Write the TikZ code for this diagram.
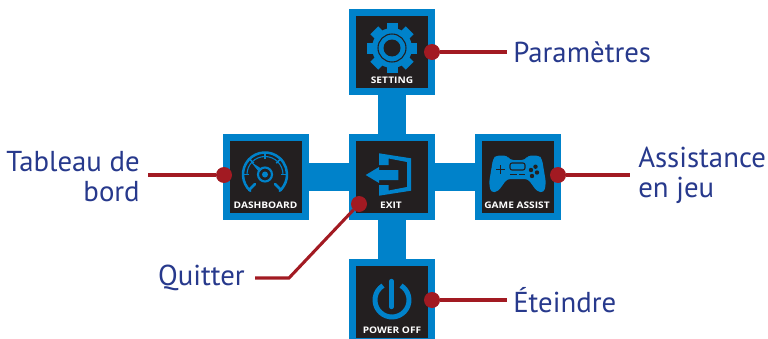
\documentclass[tikz,border=0pt]{standalone}
\usepackage{fontspec}
\setmainfont{PT Sans}
\newfontfamily\capfont[FakeStretch=1.12]{Open Sans}
\definecolor{menublue}{HTML}{0082CA}
\definecolor{menudark}{HTML}{231F20}
\definecolor{pinred}{HTML}{A21A22}
\definecolor{labelblue}{HTML}{27398C}
\tikzset{
    menubox/.style={draw=menublue, fill=menudark, line width=5pt, minimum size=59.5pt, inner sep=0pt},
    menubar/.style={menublue, line width=21pt},
    pin/.style={circle, fill=pinred, minimum size=12pt, inner sep=0pt},
    pinline/.style={pinred, line width=2.3pt},
    label/.style={text=labelblue, font=\fontsize{21.6}{22.5}\selectfont, inner sep=0pt},
    caption/.style={text=white, font=\capfont\bfseries\fontsize{6.8}{7}\selectfont, inner sep=0pt},
    iconline/.style={menublue, line width=1.9pt}
}

\begin{document}
\begin{tikzpicture}[x=0.75pt, y=-0.75pt]
    \useasboundingbox (0, 0) rectangle (768, 339);
    \clip (0, 0) rectangle (768, 339);

    \node [menubox] (setting) at (392, 52) {};
    \node [menubox] (dash) at (266, 177) {};
    \node [menubox] (exit) at (392, 177) {};
    \node [menubox] (game) at (518, 177) {};
    \node [menubox] (power) at (392, 302) {};

    \draw [menubar] (setting) -- (exit);
    \draw [menubar] (exit) -- (power);
    \draw [menubar] (dash) -- (exit);
    \draw [menubar] (exit) -- (game);

    \node [caption] (settingcap) at (392, 80.5) {SETTING};
    \node [caption] (dashcap) at (265.5, 205.5) {DASHBOARD};
    \node [caption] (exitcap) at (391, 205.5) {EXIT};
    \node [caption] (gamecap) at (517, 205.5) {GAME ASSIST};
    \node [caption] (powercap) at (392, 330.5) {POWER OFF};

    % gear
    \foreach \a in {0, 45, ..., 315} {
        \fill [menublue, shift={(392, 48)}, rotate=\a] (-5.5, -25) rectangle (5.5, -15);
    }
    \fill [menublue] (392, 48) circle (20);
    \draw [menudark, line width=0.8pt] (392, 48) circle (14);
    \fill [menudark] (392, 48) circle (8.5);

    % gauge
    \draw [iconline, line cap=round] (249, 190) -- (255, 184);
    \draw [iconline, line cap=round] (281, 190) -- (275, 184);
    \draw [iconline, line cap=round] (265, 174.5) ++ (132:22) arc [start angle=132, end angle=408, radius=22];
    \draw [menublue, line width=0.8pt] (265, 174.5) ++ (180:18) arc [start angle=180, end angle=360, radius=18];
    \foreach \a in {180, 225, 270, 315, 0} {
        \draw [menublue, line width=1.3pt] (265, 174.5) ++ (\a:23) -- ++ (\a:-7);
    }
    \draw [menublue, line width=1.6pt] (265, 174.5) circle (7);
    \fill [menublue] (265, 174.5) circle (3);
    \fill [menublue] (251, 162) -- (262, 169) -- (259, 172) -- cycle;

    % door and arrow
    \fill [menublue] (379, 153.3) -- (411, 158.3) -- (411, 190.7) -- (379, 195.7) -- (379, 185)
        -- (388.7, 185) -- (388.7, 190.5) -- (407, 187) -- (407, 162) -- (388.7, 158.5)
        -- (388.7, 165) -- (379, 165) -- cycle;
    \fill [menublue] (365.7, 175) -- (379, 167) -- (379, 170) -- (398.3, 170) -- (398.3, 180)
        -- (379, 180) -- (379, 183) -- cycle;

    % gamepad
    \fill [menublue, rounded corners=2.5pt] (496, 155.5) -- (507, 155.5) -- (510, 160) -- (525, 160)
        -- (528, 155.5) -- (539, 155.5) -- (542, 159) -- (546, 183) -- (544, 192.5) -- (537, 191.5)
        -- (528, 179) -- (507, 179) -- (498, 191.5) -- (491, 192.5) -- (489, 183) -- (493, 159) -- cycle;
    \draw [menudark, line width=0.8pt, rounded corners=1.5pt] (510, 163) rectangle (525, 170);
    \draw [menudark, line width=1.2pt] (496, 169.3) -- (505, 169.3) (500.5, 165) -- (500.5, 174);
    \draw [menudark, line width=1pt] (510, 174.8) -- (517, 174.8) (519, 174.8) -- (525, 174.8);
    \foreach \x/\y in {535.5/166.7, 531/170, 537/172.5, 532/176} {
        \fill [menudark] (\x, \y) circle (2.2);
    }

    % power symbol
    \draw [menublue, line width=3.7pt] (392, 300) ++ (-58:17) arc [start angle=-58, end angle=238, radius=17];
    \draw [menublue, line width=3.2pt, line cap=round] (391.5, 281) -- (391.5, 307);

    \node [pin] (settingpin) at (432, 52) {};
    \node [pin] (dashpin) at (224, 175) {};
    \node [pin] (exitpin) at (359, 204) {};
    \node [pin] (gamepin) at (558, 175) {};
    \node [pin] (powerpin) at (432, 300) {};

    \node [label, anchor=west] (settinglabel) at (513, 52) {Paramètres};
    \node [label, anchor=east, align=right] (dashlabel) at (140, 177) {Tableau de\\bord};
    \node [label, anchor=west, align=left] (gamelabel) at (638, 175.5) {Assistance\\en jeu};
    \node [label, anchor=east] (exitlabel) at (245, 278) {Quitter};
    \node [label, anchor=west] (powerlabel) at (513, 300) {Éteindre};

    \coordinate (settingend) at (507, 52);
    \coordinate (dashend) at (148, 175);
    \coordinate (gameend) at (630, 175);
    \coordinate (exitbend) at (289, 278);
    \coordinate (exitend) at (255, 278);
    \coordinate (powerend) at (507, 300);

    \draw [pinline] (settingpin) -- (settingend);
    \draw [pinline] (dashpin) -- (dashend);
    \draw [pinline] (gamepin) -- (gameend);
    \draw [pinline] (exitpin) -- (exitbend) -- (exitend);
    \draw [pinline] (powerpin) -- (powerend);
\end{tikzpicture}
\end{document}
